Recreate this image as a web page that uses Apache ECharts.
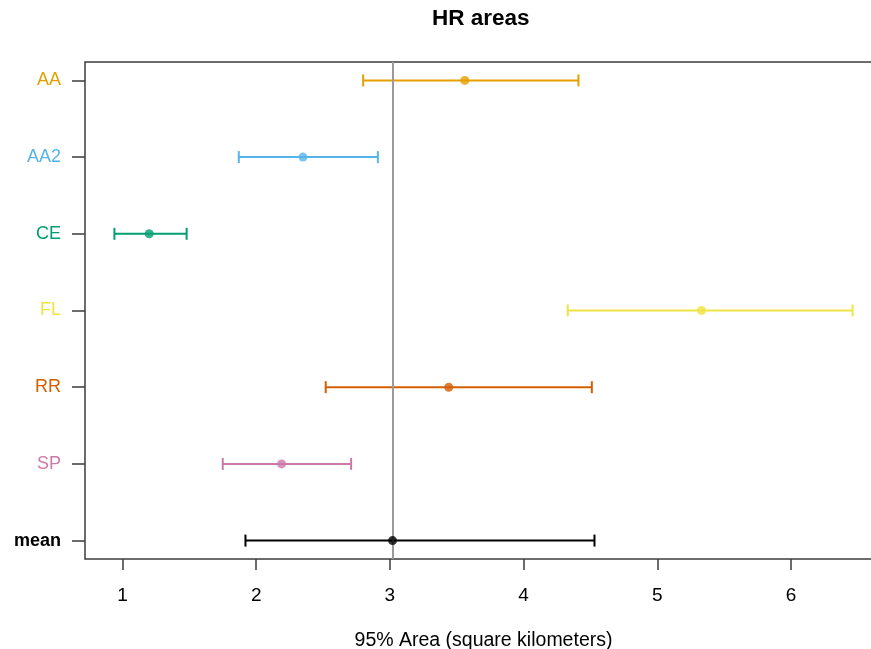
<!DOCTYPE html>
<html>
<head>
<meta charset="utf-8">
<title>HR areas</title>
<script src="https://cdn.jsdelivr.net/npm/echarts@6/dist/echarts.min.js"></script>
<style>
  html, body { margin: 0; padding: 0; background: #ffffff; overflow: hidden; }
  #chart { width: 871px; height: 649px; }
</style>
</head>
<body>
<div id="chart"></div>
<script>
// Home-range areas: point estimate with 95% interval per group
const groups = ['AA', 'AA2', 'CE', 'FL', 'RR', 'SP', 'mean'];
const estimates = [3.56, 2.35, 1.20, 5.33, 3.44, 2.19, 3.02];
const lowerCI = [2.80, 1.87, 0.94, 4.33, 2.52, 1.75, 1.92];
const upperCI = [4.41, 2.91, 1.48, 6.46, 4.51, 2.71, 4.53];
const overallMean = 3.02;
const xTicks = [1, 2, 3, 4, 5, 6];

const groupColors = ['#E69F00', '#56B4E9', '#009E73', '#F0E442', '#D55E00', '#CC79A7', '#000000'];
const FONT = '"Liberation Sans", Arial, Helvetica, sans-serif';
const AXIS_COLOR = '#3c3c3c';

const rowIndex = groups.map((g, i) => i);
const intervalData = groups.map((g, i) => [estimates[i], i, lowerCI[i], upperCI[i]]);
const pointData = groups.map((g, i) => ({
  value: [estimates[i], i],
  itemStyle: { color: groupColors[i] }
}));

const labelRich = {};
groups.forEach((g, i) => {
  labelRich['g' + i] = {
    color: groupColors[i],
    fontFamily: FONT,
    fontSize: 18,
    fontWeight: g === 'mean' ? 'bold' : 'normal'
  };
});

function renderInterval(params, api) {
  const i = api.value(1);
  const lo = api.coord([api.value(2), i]);
  const hi = api.coord([api.value(3), i]);
  const cap = 6;
  const style = { stroke: groupColors[i], lineWidth: 2, fill: null };
  return {
    type: 'group',
    children: [
      { type: 'line', shape: { x1: lo[0], y1: lo[1], x2: hi[0], y2: hi[1] }, style: style },
      { type: 'line', shape: { x1: lo[0], y1: lo[1] - cap, x2: lo[0], y2: lo[1] + cap }, style: style },
      { type: 'line', shape: { x1: hi[0], y1: hi[1] - cap, x2: hi[0], y2: hi[1] + cap }, style: style }
    ]
  };
}

const chart = echarts.init(document.getElementById('chart'), null, { renderer: 'canvas' });
chart.setOption({
  animation: false,
  backgroundColor: '#ffffff',
  title: {
    text: 'HR areas',
    left: 432,
    top: 7,
    padding: 0,
    textStyle: { fontFamily: FONT, fontSize: 22.5, fontWeight: 'bold', color: '#000000' }
  },
  grid: {
    left: 85,
    right: -11,
    top: 62,
    bottom: 90,
    containLabel: false,
    outerBoundsMode: 'none',
    show: true,
    borderColor: AXIS_COLOR,
    borderWidth: 1.5,
    backgroundColor: 'transparent'
  },
  xAxis: {
    type: 'value',
    min: 0.72,
    max: 6.68,
    name: '95% Area (square kilometers)',
    nameLocation: 'middle',
    nameGap: 72,
    nameTextStyle: { fontFamily: FONT, fontSize: 19.5, color: '#000000' },
    axisLine: { show: false, onZero: false },
    splitLine: { show: false },
    axisTick: {
      show: true,
      length: 11,
      lineStyle: { color: AXIS_COLOR, width: 1.5 },
      customValues: xTicks
    },
    axisLabel: {
      margin: 27,
      fontFamily: FONT,
      fontSize: 19,
      color: '#000000',
      customValues: xTicks
    }
  },
  yAxis: {
    type: 'value',
    inverse: true,
    min: -0.24,
    max: 6.24,
    axisLine: { show: false, onZero: false },
    splitLine: { show: false },
    axisTick: {
      show: true,
      length: 13,
      lineStyle: { color: AXIS_COLOR, width: 1.5 },
      customValues: rowIndex
    },
    axisLabel: {
      margin: 24,
      customValues: rowIndex,
      formatter: function (v) {
        const i = Math.round(v);
        return '{g' + i + '|' + groups[i] + '}';
      },
      rich: labelRich
    }
  },
  series: [
    {
      type: 'custom',
      renderItem: renderInterval,
      data: intervalData,
      encode: { x: [0, 2, 3], y: 1 },
      z: 2,
      silent: true
    },
    {
      type: 'scatter',
      data: pointData,
      symbol: 'circle',
      symbolSize: 9,
      z: 4,
      silent: true,
      markLine: {
        silent: true,
        symbol: ['none', 'none'],
        label: { show: false },
        lineStyle: { color: '#9a9a9a', width: 2, type: 'solid' },
        data: [{ xAxis: overallMean }],
        z: 3
      }
    }
  ]
});
</script>
</body>
</html>
